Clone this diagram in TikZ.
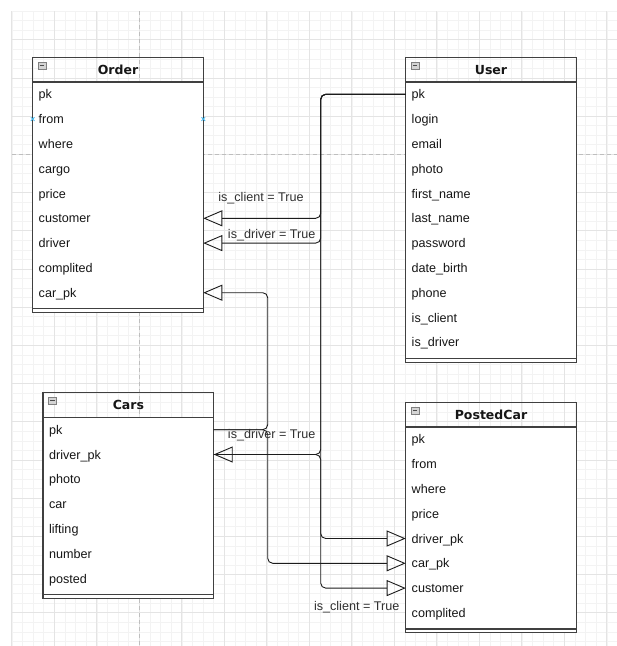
\documentclass[tikz,border=0pt]{standalone}
\usepackage{fontspec}
\setmainfont{Liberation Sans}
\newfontfamily\hdrfamily{DejaVu Sans}
\usepackage{tikz}
\usetikzlibrary{
  positioning,
  arrows.meta,
  backgrounds,
}
\definecolor{cText}    {HTML}{161616}
\definecolor{cLabel}   {HTML}{303030}
\definecolor{cBorder}  {HTML}{404040}
\definecolor{cEdge}    {HTML}{1C1C1C}
\definecolor{cGridMin} {HTML}{F3F3F3}
\definecolor{cGridMaj} {HTML}{E4E4E4}
\definecolor{cPage}    {HTML}{BEBEBE}
\definecolor{cIcon}    {HTML}{D4D4D4}
\definecolor{cHover}   {HTML}{3DB4EC}

\begin{document}
\begin{tikzpicture}[
  x=1pt, y=-1pt,
  every node/.style={text=cText, outer sep=0pt},
  %
  rowfont/.style={font=\fontsize{12.6}{15}\selectfont},
  tblhead/.style={
    draw=cBorder, line width=1.3pt, anchor=north west,
    minimum width=170.6pt, minimum height=24.6pt, inner sep=0pt,
    font=\hdrfamily\bfseries\fontsize{12.5}{15}\selectfont,
  },
  tblrow/.style={
    rowfont, minimum height=24.8pt, text width=158.6pt,
    inner xsep=6pt, inner ysep=0pt, align=left,
    text height=10.6pt, text depth=1.4pt,
  },
  tblbody/.style={draw=cBorder, fill=white, line width=1.3pt},
  tblline/.style={draw=cBorder, line width=1.3pt},
  tblicon/.style={
    draw=black!50, fill=cIcon, line width=0.5pt, inner sep=0pt,
    minimum width=8pt, minimum height=7pt,
    path picture={\draw[line width=0.9pt, draw=black!70]
      ([xshift=1.8pt]path picture bounding box.west) --
      ([xshift=-1.8pt]path picture bounding box.east);},
  },
  rel/.style={draw=cEdge, line width=0.9pt, rounded corners=5pt,
              -{Triangle[open, length=19pt, width=16pt]}},
  lbl/.style={rowfont, text=cLabel, inner sep=1pt},
  gridmin/.style={draw=cGridMin, line width=0.6pt},
  gridmaj/.style={draw=cGridMaj, line width=0.7pt},
  pagebrk/.style={draw=cPage, line width=0.6pt, dash pattern=on 4pt off 3pt},
]
\useasboundingbox (0,0) rectangle (617,646);

% ────────────── CANVAS GRID ────────────────────────────────────────────────
\begin{pgfonlayer}{background}
  \fill[white] (0,0) rectangle (617,646);
  \foreach \k in {0,...,56}
    \draw[gridmin] ({11.8+10.625*\k},11.05) -- ({11.8+10.625*\k},646);
  \foreach \j in {0,...,66}
    \draw[gridmin] (11.8,{11.05+9.55*\j}) -- (617,{11.05+9.55*\j});
  \foreach \k in {0,...,14}
    \draw[gridmaj] ({11.8+42.5*\k},11.05) -- ({11.8+42.5*\k},646);
  \foreach \j in {0,...,15}
    \draw[gridmaj] (11.8,{39.7+38.2*\j}) -- (617,{39.7+38.2*\j});
  \draw[pagebrk] (139.3,11.05) -- (139.3,646);
  \draw[pagebrk] (11.8,154.3) -- (617,154.3);
\end{pgfonlayer}

% ────────────── ORDER TABLE ────────────────────────────────────────────────
\node[tblhead] (order) at (32.7,57.3) {Order};
\node[tblrow, below=0pt of order]        (order_pk)     {pk};
\node[tblrow, below=0pt of order_pk]     (order_from)   {from};
\node[tblrow, below=0pt of order_from]   (order_where)  {where};
\node[tblrow, below=0pt of order_where]  (order_cargo)  {cargo};
\node[tblrow, below=0pt of order_cargo]  (order_price)  {price};
\node[tblrow, below=0pt of order_price]  (order_cust)   {customer};
\node[tblrow, below=0pt of order_cust]   (order_driver) {driver};
\node[tblrow, below=0pt of order_driver] (order_compl)  {complited};
\node[tblrow, below=0pt of order_compl]  (order_carpk)  {car\_pk};
\node[tblicon] (order_icon) at ([xshift=9.3pt, yshift=-8pt]order.north west) {};

% ────────────── USER TABLE ─────────────────────────────────────────────────
\node[tblhead] (user) at (405.7,57.3) {User};
\node[tblrow, below=0pt of user]         (user_pk)     {pk};
\node[tblrow, below=0pt of user_pk]      (user_login)  {login};
\node[tblrow, below=0pt of user_login]   (user_email)  {email};
\node[tblrow, below=0pt of user_email]   (user_photo)  {photo};
\node[tblrow, below=0pt of user_photo]   (user_first)  {first\_name};
\node[tblrow, below=0pt of user_first]   (user_last)   {last\_name};
\node[tblrow, below=0pt of user_last]    (user_pass)   {password};
\node[tblrow, below=0pt of user_pass]    (user_birth)  {date\_birth};
\node[tblrow, below=0pt of user_birth]   (user_phone)  {phone};
\node[tblrow, below=0pt of user_phone]   (user_client) {is\_client};
\node[tblrow, below=0pt of user_client]  (user_driver) {is\_driver};
\node[tblicon] (user_icon) at ([xshift=9.3pt, yshift=-8pt]user.north west) {};

% ────────────── CARS TABLE ─────────────────────────────────────────────────
\node[tblhead] (cars) at (43.1,392.7) {Cars};
\node[tblrow, below=0pt of cars]         (cars_pk)     {pk};
\node[tblrow, below=0pt of cars_pk]      (cars_drvpk)  {driver\_pk};
\node[tblrow, below=0pt of cars_drvpk]   (cars_photo)  {photo};
\node[tblrow, below=0pt of cars_photo]   (cars_car)    {car};
\node[tblrow, below=0pt of cars_car]     (cars_lift)   {lifting};
\node[tblrow, below=0pt of cars_lift]    (cars_number) {number};
\node[tblrow, below=0pt of cars_number]  (cars_posted) {posted};
\node[tblicon] (cars_icon) at ([xshift=9.3pt, yshift=-8pt]cars.north west) {};

% ────────────── POSTEDCAR TABLE ────────────────────────────────────────────
\node[tblhead] (pc) at (405.7,402.3) {PostedCar};
\node[tblrow, below=0pt of pc]           (pc_pk)     {pk};
\node[tblrow, below=0pt of pc_pk]        (pc_from)   {from};
\node[tblrow, below=0pt of pc_from]      (pc_where)  {where};
\node[tblrow, below=0pt of pc_where]     (pc_price)  {price};
\node[tblrow, below=0pt of pc_price]     (pc_drvpk)  {driver\_pk};
\node[tblrow, below=0pt of pc_drvpk]     (pc_carpk)  {car\_pk};
\node[tblrow, below=0pt of pc_carpk]     (pc_cust)   {customer};
\node[tblrow, below=0pt of pc_cust]      (pc_compl)  {complited};
\node[tblicon] (pc_icon) at ([xshift=9.3pt, yshift=-8pt]pc.north west) {};

% ────────────── TABLE BODIES — white fill behind the rows ──────────────────
\begin{pgfonlayer}{background}
  \draw[tblbody] (order.south west) rectangle ([yshift=-7.5pt]order_carpk.south east);
  \draw[tblbody] (user.south west)  rectangle ([yshift=-7.5pt]user_driver.south east);
  \draw[tblbody] (cars.south west)  rectangle ([yshift=-7.5pt]cars_posted.south east);
  \draw[tblbody] (pc.south west)    rectangle ([yshift=-7.5pt]pc_compl.south east);
\end{pgfonlayer}
\draw[tblline] ([yshift=-3.6pt]order_carpk.south west) -- ([yshift=-3.6pt]order_carpk.south east);
\draw[tblline] ([yshift=-3.6pt]user_driver.south west) -- ([yshift=-3.6pt]user_driver.south east);
\draw[tblline] ([yshift=-3.6pt]cars_posted.south west) -- ([yshift=-3.6pt]cars_posted.south east);
\draw[tblline] ([yshift=-3.6pt]pc_compl.south west)    -- ([yshift=-3.6pt]pc_compl.south east);

% hover marks left on the "from" row
\foreach \a in {order_from.west, order_from.east}
  \draw[cHover, line width=0.8pt]
    ([shift={(-1.8pt,-1.8pt)}]\a) -- ([shift={(1.8pt,1.8pt)}]\a)
    ([shift={(-1.8pt,1.8pt)}]\a) -- ([shift={(1.8pt,-1.8pt)}]\a);

% ────────────── RELATIONS — from User.pk ───────────────────────────────────
\draw[rel] (user_pk.west) -- ++(-85,0) |- (order_cust.east);
\draw[rel] (user_pk.west) -- ++(-85,0) |- (order_driver.east);
\draw[rel] (user_pk.west) -- ++(-85,0) |- (cars_drvpk.east);
\draw[rel] (user_pk.west) -- ++(-85,0) |- (pc_cust.west);
\draw[rel] (cars_drvpk.east) -- ++(107,0) |- (pc_drvpk.west);

% ────────────── RELATIONS — from Cars.pk ───────────────────────────────────
\draw[rel] (cars_pk.east) -- ++(54,0) |- (order_carpk.east);
\draw[rel] (cars_pk.east) -- ++(54,0) |- (pc_carpk.west);

% ────────────── RELATION LABELS ────────────────────────────────────────────
\node[lbl] (lbl_ord_client) at (261,197.7)   {is\_client = True};
\node[lbl] (lbl_ord_driver) at (271.7,235.3) {is\_driver = True};
\node[lbl] (lbl_car_driver) at (271.7,435.3) {is\_driver = True};
\node[lbl] (lbl_pc_client)  at (356.7,607)   {is\_client = True};

\end{tikzpicture}
\end{document}
